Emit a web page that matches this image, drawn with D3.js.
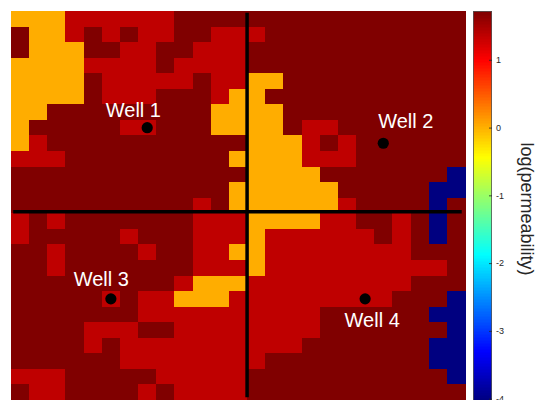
<!DOCTYPE html>
<html>
<head>
<meta charset="utf-8">
<script src="https://cdn.jsdelivr.net/npm/d3@7"></script>
<style>
  html, body { margin: 0; padding: 0; background: #ffffff; }
  svg { display: block; }
</style>
</head>
<body>
<svg id="chart" width="535" height="400"></svg>
<script>
// Facies codes for each grid row (top to bottom), one character per cell
const faciesRows = [
  "YYYRRRRRRDDDDDDDDDDDDDDDD",
  "DYYRDRDRRDDRRRDDDDDDDDDDD",
  "DYYYDDRRDDRRRDDDDDDDDDDDD",
  "YYYYRRRRDRRRRDDDDDDDDDDDD",
  "YYYYDRRRRRDRRYYDDDDDDDDDD",
  "YYYYDRRRDDDRYYDDDDDDDDDDD",
  "YYDDDDDDDDDYYYYDDDDDDDDDD",
  "YDDDDDRRDDDYYYYDRRDDDDDDD",
  "YRDDDDDDDDDDDYYYRDRDDDDDD",
  "RRRDDDDDDDDDYYYYRRRDDDDDD",
  "DDDDDDDDDDDDDYYYYDDDDDDDB",
  "DDDDDDDDDDDDYYYYYYDDDDDBB",
  "DDDDDDDDDDRDYYYYYYRDDDDBD",
  "RDRDDDDDDDRRRYYYYRRDDRDBD",
  "RDDDDDRDDDRRRYRRRRRRDRDBD",
  "DDRDDDDRDDRRYYRRRRRRRRDDD",
  "DDRDDDDDDDRRRYRRRRRRRRRRD",
  "DDDDDDDDDRYYYRRRRRRRRRDDD",
  "DDDDDRDRRYYYRRRRRRRRRDDDB",
  "DDDDDDDRRRRRRRRRRDDDDDDBB",
  "DDDDRRRDDRRRRRRRRDDDDDDDB",
  "DDDDRDRRRRRRRRRRDDDDDDDBB",
  "DDDDDDRRRRRRRRDDDDDDDDDBB",
  "RRRDDDDDRRRRRDDDDDDDDDDDB",
  "DRRDDDDRDRRRRDDDDDDDDDDDD"
];

// log(permeability) of each facies code
const faciesCodes = ["D", "R", "Y", "B"];
const faciesLogPerm = [1.72, 1.36, 0.03, -4.02];

// Colour limits and colorbar ticks
const colorLimits = [-4.02, 1.72];
const colorTicks = [1, 0, -1, -2, -3, -4];

// Wells: grid position and label anchor (grid units)
const wellNames = ["Well 1", "Well 2", "Well 3", "Well 4"];
const wellCol = [8, 21, 6, 20];
const wellRow = [8, 9, 19, 19];
const wellLabelCol = [7.24, 22.24, 5.47, 20.39];
const wellLabelRow = [7.29, 8.0, 18.17, 20.79];

// Quadrant dividers (grid units)
const dividerCol = 13.5;
const dividerRow = 13.4;
const dividerSpan = [0.62, 25.32];

const nRows = faciesRows.length;
const nCols = faciesRows[0].length;

const svg = d3.select("#chart");

const x = d3.scaleLinear().domain([0.5, nCols + 0.5]).range([11, 465]);
const y = d3.scaleLinear().domain([0.5, nRows + 0.5]).range([11, 400]);

// MATLAB-style jet colormap
function jet(t) {
  const c = v => Math.max(0, Math.min(1, v));
  const r = c(1.5 - Math.abs(4 * t - 3));
  const g = c(1.5 - Math.abs(4 * t - 2));
  const b = c(1.5 - Math.abs(4 * t - 1));
  return d3.rgb(r * 255, g * 255, b * 255).formatHex();
}
const color = d3.scaleSequential(jet).domain(colorLimits);

const logPermOf = new Map(faciesCodes.map((k, i) => [k, faciesLogPerm[i]]));

const cells = [];
faciesRows.forEach((row, ri) => {
  row.split("").forEach((code, ci) => {
    cells.push({ col: ci + 1, row: ri + 1, v: logPermOf.get(code) });
  });
});

// Permeability field
svg.append("g")
  .attr("shape-rendering", "crispEdges")
  .selectAll("rect")
  .data(cells)
  .join("rect")
  .attr("x", d => x(d.col - 0.5))
  .attr("y", d => y(d.row - 0.5))
  .attr("width", d => x(d.col + 0.5) - x(d.col - 0.5) + 0.5)
  .attr("height", d => y(d.row + 0.5) - y(d.row - 0.5) + 0.5)
  .attr("fill", d => color(d.v));

// Quadrant dividers
const divG = svg.append("g").attr("stroke", "#000").attr("stroke-width", 3.5);
divG.append("line")
  .attr("x1", x(dividerCol)).attr("x2", x(dividerCol))
  .attr("y1", y(dividerSpan[0])).attr("y2", y(dividerSpan[1]));
divG.append("line")
  .attr("x1", x(dividerSpan[0])).attr("x2", x(dividerSpan[1]))
  .attr("y1", y(dividerRow)).attr("y2", y(dividerRow));

// Wells
const wells = wellNames.map((n, i) => ({
  name: n, col: wellCol[i], row: wellRow[i], lc: wellLabelCol[i], lr: wellLabelRow[i]
}));
svg.append("g").selectAll("circle")
  .data(wells)
  .join("circle")
  .attr("cx", d => x(d.col))
  .attr("cy", d => y(d.row))
  .attr("r", 5.6)
  .attr("fill", "#000");
svg.append("g").selectAll("text")
  .data(wells)
  .join("text")
  .attr("x", d => x(d.lc))
  .attr("y", d => y(d.lr))
  .attr("text-anchor", "middle")
  .attr("fill", "#ffffff")
  .attr("font-family", "'Liberation Sans', Arial, sans-serif")
  .attr("font-size", 20)
  .text(d => d.name);

// Colorbar
const cbX = 473, cbW = 19;
const cbY = d3.scaleLinear().domain(colorLimits).range([400, 11]);
const steps = d3.range(256).map(i => colorLimits[0] + (colorLimits[1] - colorLimits[0]) * i / 256);
const stepH = (colorLimits[1] - colorLimits[0]) / 256;
svg.append("g")
  .attr("shape-rendering", "crispEdges")
  .selectAll("rect")
  .data(steps)
  .join("rect")
  .attr("x", cbX)
  .attr("width", cbW)
  .attr("y", d => cbY(d + stepH))
  .attr("height", d => cbY(d) - cbY(d + stepH) + 0.6)
  .attr("fill", d => color(d + stepH / 2));
svg.append("rect")
  .attr("x", cbX + 0.5).attr("y", 11.5)
  .attr("width", cbW - 1).attr("height", 389)
  .attr("fill", "none").attr("stroke", "#555").attr("stroke-width", 0.8);

const cbAxis = svg.append("g")
  .attr("transform", `translate(${cbX + cbW},0)`)
  .call(d3.axisRight(cbY).tickValues(colorTicks).tickSize(-3).tickPadding(4)
    .tickFormat(d => String(d)));
cbAxis.select(".domain").remove();
cbAxis.selectAll(".tick line").attr("stroke", "#262626").attr("stroke-width", 0.8);
cbAxis.selectAll(".tick text")
  .attr("fill", "#262626")
  .attr("font-family", "'Liberation Sans', Arial, sans-serif")
  .attr("font-size", 9);

svg.append("text")
  .attr("transform", "translate(520.6,209) rotate(90)")
  .attr("text-anchor", "middle")
  .attr("fill", "#262626")
  .attr("font-family", "'Liberation Sans', Arial, sans-serif")
  .attr("font-size", 18)
  .text("log(permeability)");
</script>
</body>
</html>
